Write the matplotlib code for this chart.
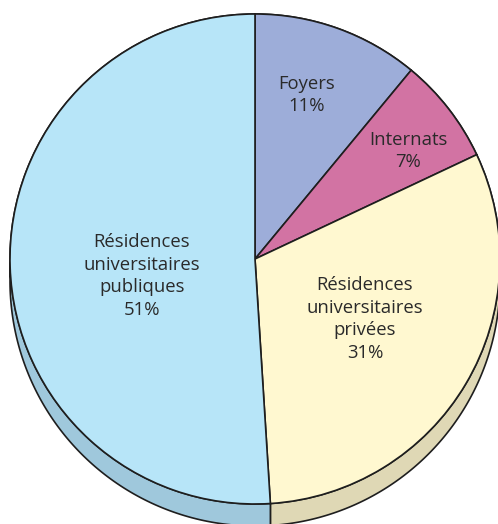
import numpy as np
import matplotlib
matplotlib.use("Agg")
import matplotlib.pyplot as plt
from matplotlib.patches import Polygon

# Data
categories = ["Foyers", "Internats", "Résidences\nuniversitaires\nprivées", "Résidences\nuniversitaires\npubliques"]
values = [11, 7, 31, 51]
top_colors = ["#9DADD9", "#D273A3", "#FFF8D0", "#B7E5F8"]
side_colors = ["#8090BC", "#B25C88", "#DFD8B5", "#9FC8DC"]

# Label positions (pixel coords in reference image)
label_px = [(307, 95), (408, 151), (365, 319), (142, 276)]

W, H = 498, 524
cx, cy, R = 255, 259, 245
depth = 22 / R

fig = plt.figure(figsize=(W / 100, H / 100), dpi=100)
ax = fig.add_axes([0, 0, 1, 1])

edge = "#1e1e1e"
lw = 1.2

# Side wall of extruded pie
fracs = np.array(values) / sum(values)
starts = 90 - 360 * np.concatenate([[0], np.cumsum(fracs)[:-1]])
ends = starts - 360 * fracs
for s, e, c in zip(starts, ends, side_colors):
    th = np.radians(np.linspace(s, e, 200))
    top = np.column_stack([np.cos(th), np.sin(th)])
    bot = np.column_stack([np.cos(th), np.sin(th) - depth])[::-1]
    poly = Polygon(np.vstack([top, bot]), closed=True, facecolor=c,
                   edgecolor=edge, linewidth=lw, zorder=1, joinstyle="round")
    ax.add_patch(poly)

# Top face
wedges, _ = ax.pie(values, colors=top_colors, startangle=90, counterclock=False,
                   radius=1, center=(0, 0),
                   wedgeprops=dict(edgecolor=edge, linewidth=lw, zorder=2))
for w in wedges:
    w.set_zorder(2)

for (px, py), cat, v in zip(label_px, categories, values):
    ax.text((px - cx) / R, (cy - py) / R, f"{cat}\n{v}%", ha="center", va="center",
            fontsize=13.3, family="Open Sans", color="#2a2a2a", linespacing=1.32,
            zorder=5)

ax.set_xlim(-cx / R, (W - cx) / R)
ax.set_ylim(-(H - cy) / R, cy / R)
ax.set_aspect("auto")
ax.axis("off")

fig.savefig("out.png", dpi=100)
